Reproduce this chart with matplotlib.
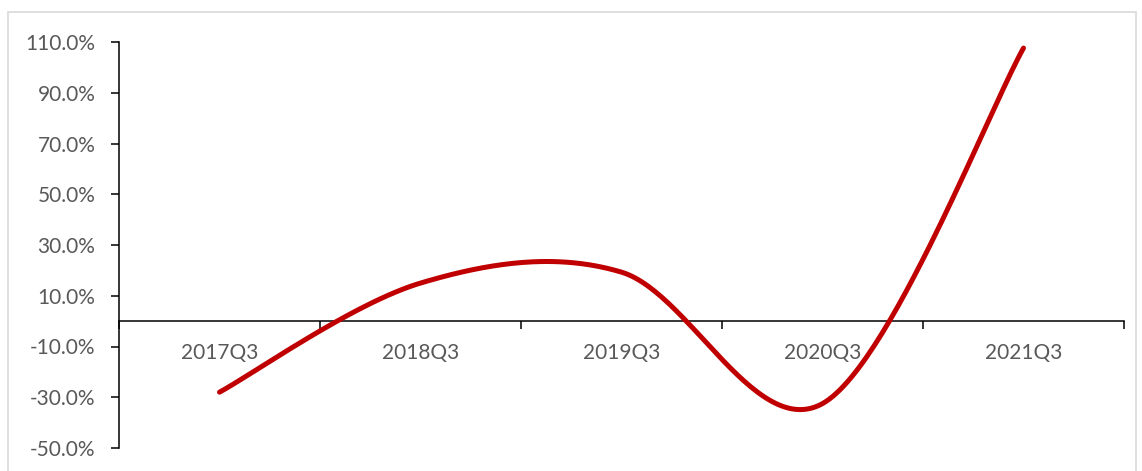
import numpy as np
import matplotlib
matplotlib.use("Agg")
import matplotlib.pyplot as plt
from matplotlib.patches import Rectangle
from matplotlib.ticker import FixedLocator, FuncFormatter

quarters = ["2017Q3", "2018Q3", "2019Q3", "2020Q3", "2021Q3"]
growth = [-28.0, 15.0, 19.3, -32.5, 107.6]   # %
y_ticks = [-50, -30, -10, 10, 30, 50, 70, 90, 110]


def smooth_curve(xs, ys, n=60):
    # cubic bezier through every point, control points as in a spreadsheet "smoothed line"
    xs = np.asarray(xs, float)
    ys = np.asarray(ys, float)
    px = np.concatenate([[xs[0]], xs, [xs[-1]]])
    py = np.concatenate([[ys[0]], ys, [ys[-1]]])
    out_x, out_y = [], []
    t = np.linspace(0, 1, n)
    for i in range(1, len(xs)):
        p0 = np.array([px[i], py[i]])
        p3 = np.array([px[i + 1], py[i + 1]])
        c1 = p0 + (np.array([px[i + 1], py[i + 1]]) - np.array([px[i - 1], py[i - 1]])) / 6
        c2 = p3 - (np.array([px[i + 2], py[i + 2]]) - np.array([px[i], py[i]])) / 6
        b = ((1 - t) ** 3)[:, None] * p0 + (3 * (1 - t) ** 2 * t)[:, None] * c1 \
            + (3 * (1 - t) * t ** 2)[:, None] * c2 + (t ** 3)[:, None] * p3
        out_x.extend(b[:, 0])
        out_y.extend(b[:, 1])
    return np.array(out_x), np.array(out_y)


plt.rcParams['font.family'] = ['Lato', 'DejaVu Sans']

fig = plt.figure(figsize=(11.42, 4.71), dpi=100)
fig.patches.append(Rectangle((8 / 1142, -0.05), 1128 / 1142, 1 - 12 / 471 + 0.05,
                             transform=fig.transFigure, fill=False,
                             edgecolor="#d9d9d9", linewidth=1.2))

ax = fig.add_axes([119 / 1142, 1 - 448 / 471, (1124 - 119) / 1142, (448 - 42) / 471])

x = np.arange(len(quarters))
sx, sy = smooth_curve(x, growth)
ax.plot(sx, sy, color="#C00000", linewidth=3.6, solid_capstyle="round", zorder=3)

ax.set_xlim(-0.5, len(quarters) - 0.5)
ax.set_ylim(-50, 110)

ax.spines['top'].set_visible(False)
ax.spines['right'].set_visible(False)
ax.spines['bottom'].set_position(('data', 0))
for s in ('left', 'bottom'):
    ax.spines[s].set_linewidth(1.1)
    ax.spines[s].set_color("black")

ax.yaxis.set_major_locator(FixedLocator(y_ticks))
ax.yaxis.set_major_formatter(FuncFormatter(lambda v, p: f"{v:.1f}%"))
ax.tick_params(axis='y', length=6, width=1.1, direction='out', pad=11,
               labelsize=15, labelcolor="#595959")

ax.xaxis.set_major_locator(FixedLocator(np.arange(-0.5, len(quarters), 1.0)))
ax.xaxis.set_major_formatter(FuncFormatter(lambda v, p: ""))
ax.xaxis.set_minor_locator(FixedLocator(x))
ax.set_xticklabels(quarters, minor=True)
ax.tick_params(axis='x', which='major', length=6, width=1.1, direction='out')
ax.tick_params(axis='x', which='minor', length=0, pad=16, labelsize=15,
               labelcolor="#595959")

fig.savefig("out.png", dpi=100)
